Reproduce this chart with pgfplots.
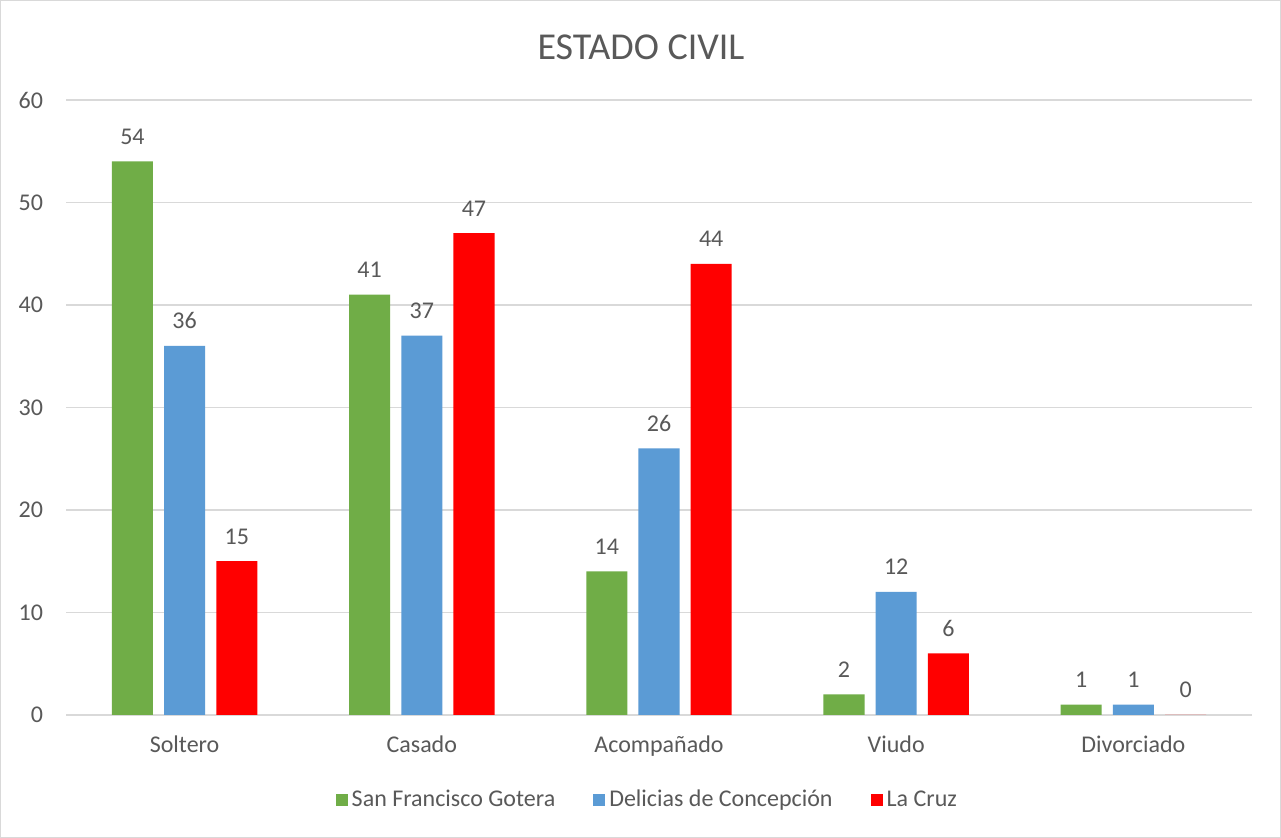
\documentclass[border=0pt]{standalone}
\usepackage{pgfplots}
\pgfplotsset{compat=1.18}
\usepackage{fontspec}
\setmainfont{Carlito}
\definecolor{cgreen}{HTML}{70AD47}
\definecolor{cblue}{HTML}{5B9BD5}
\definecolor{cred}{HTML}{FF0000}
\definecolor{ctext}{HTML}{595959}
\definecolor{cgrid}{HTML}{D9D9D9}
\begin{document}
\begin{tikzpicture}
\fill[white] (0,0) rectangle (640.5pt,419pt);
\draw[cgrid, line width=0.6pt] (0.3pt,0.3pt) rectangle (640.2pt,418.7pt);
\node[font=\fontsize{19}{22}\selectfont, text=ctext] at (320.5pt,395.5pt) {ESTADO CIVIL};
\begin{axis}[
  at={(33pt,61.5pt)}, anchor=south west,
  scale only axis, width=593pt, height=307.5pt,
  xmin=-0.5, xmax=4.5, ymin=0, ymax=60,
  ytick={0,10,...,60},
  xtick={0,1,2,3,4},
  xticklabels={Soltero,Casado,Acompañado,Viudo,Divorciado},
  ybar, bar width=0.173,
  ymajorgrids, grid style={cgrid, line width=0.6pt},
  axis lines*=left,
  x axis line style={cgrid, line width=0.6pt, -},
  y axis line style={draw=none},
  major tick length=0pt,
  tick label style={font=\fontsize{12}{14}\selectfont, text=ctext},
  /pgf/number format/assume math mode=true,
  yticklabel style={xshift=-8pt},
  xticklabel style={yshift=-7pt},
  nodes near coords,
  nodes near coords style={font=\fontsize{12}{14}\selectfont, text=ctext, yshift=5pt},
  every axis plot/.append style={draw=none},
  legend style={at={(0.491,-0.138)}, anchor=center, draw=none, legend columns=3,
    font=\fontsize{12}{14}\selectfont, text=ctext,
    /tikz/every even column/.append style={column sep=17pt}},
  legend image code/.code={\fill[#1] (0pt,-3pt) rectangle (6pt,3pt);},
]
\addplot[fill=cgreen, bar shift=-0.22] coordinates {(0,54) (1,41) (2,14) (3,2) (4,1)};
\addplot[fill=cblue, bar shift=0] coordinates {(0,36) (1,37) (2,26) (3,12) (4,1)};
\addplot[fill=cred, bar shift=0.22] coordinates {(0,15) (1,47) (2,44) (3,6) (4,0)};
\legend{San Francisco Gotera, Delicias de Concepción, La Cruz}
\end{axis}
\end{tikzpicture}
\end{document}
